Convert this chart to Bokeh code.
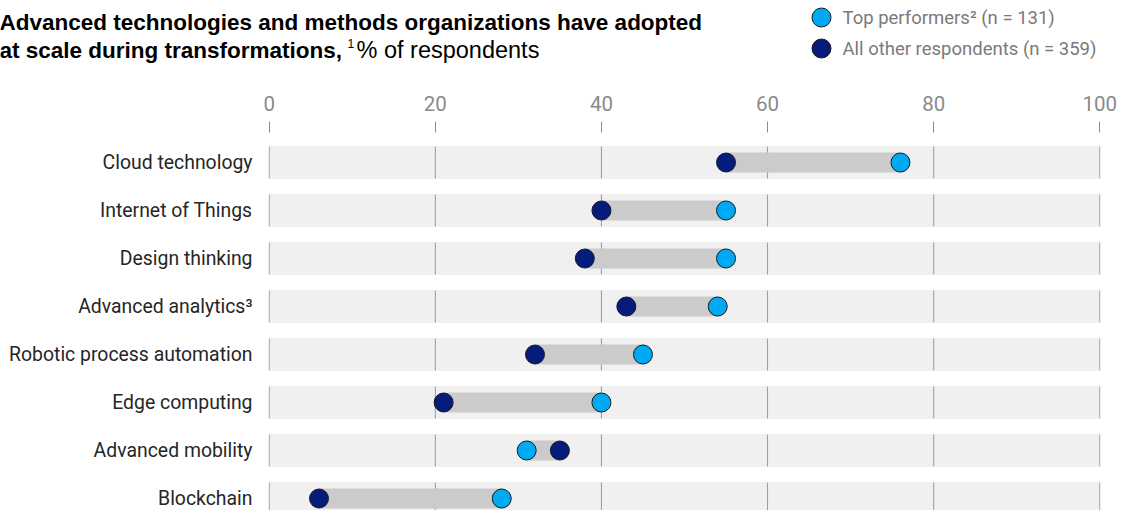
from bokeh.plotting import figure
from bokeh.layouts import column
from bokeh.models import Range1d, FixedTicker
from bokeh.core.properties import value
from bokeh.embed import file_html
from bokeh.resources import INLINE

# ---- data ----
categories = ["Cloud technology", "Internet of Things", "Design thinking",
              "Advanced analytics\u00b3", "Robotic process automation",
              "Edge computing", "Advanced mobility", "Blockchain"]
top_performers = [76, 55, 55, 54, 45, 40, 31, 28]
all_others = [55, 40, 38, 43, 32, 21, 35, 6]
x_ticks = [0, 20, 40, 60, 80, 100]

title_bold_1 = "Advanced technologies and methods organizations have adopted"
title_bold_2 = "at scale during transformations,"
title_note = "1"
title_rest = "% of respondents"
legend_labels = ["Top performers\u00b2 (n = 131)", "All other respondents (n = 359)"]

# ---- style ----
TOP = "#00a9f4"
OTHER = "#051c7c"
FONT = "Roboto"
TFONT = "Liberation Sans"
W = 1129
HEAD_H = 82
MAIN_H = 510 - HEAD_H

# ---- header (title + legend) ----
head = figure(width=W, height=HEAD_H, x_range=Range1d(0, W), y_range=Range1d(HEAD_H, 0),
              output_backend="svg", toolbar_location=None, min_border=0,
              x_axis_location=None, y_axis_location=None)
head.grid.visible = False
head.outline_line_color = None
head.frame_align = False

head.text(x=[-1], y=[22], text=[title_bold_1], text_font=value(TFONT), text_font_style="bold",
          text_font_size="22.5px", text_color="#000000", text_baseline="alphabetic")
head.text(x=[-1], y=[49.5], text=[title_bold_2], text_font=value(TFONT), text_font_style="bold",
          text_font_size="22.5px", text_color="#000000", text_baseline="alphabetic")
head.text(x=[347], y=[42.5], text=[title_note], text_font=value(TFONT),
          text_font_size="12px", text_color="#000000", text_baseline="alphabetic")
head.text(x=[356], y=[49.5], text=[title_rest], text_font=value(TFONT),
          text_font_size="23.5px", text_color="#000000", text_baseline="alphabetic")

leg_y = [17, 48]
head.scatter(x=[821, 821], y=leg_y, size=19, fill_color=[TOP, OTHER], line_color="#1a1a1a", line_width=1)
head.text(x=[842, 842], y=leg_y, text=legend_labels, text_font=value(FONT),
          text_font_size="18.5px", text_color="#7a7a7a", text_baseline="middle")

# ---- main chart ----
y_idx = list(range(len(categories)))
p = figure(width=W, height=MAIN_H, x_range=Range1d(-0.08, 100.08), y_range=Range1d(7.25, -0.625),
           output_backend="svg", toolbar_location=None, x_axis_location="above",
           min_border_left=268, min_border_right=29, min_border_top=132 - HEAD_H, min_border_bottom=0)
p.grid.visible = False
p.outline_line_color = None
p.frame_align = False

xa = p.xaxis[0]
xa.ticker = FixedTicker(ticks=x_ticks)
xa.axis_line_color = None
xa.major_tick_out = 11
xa.major_tick_in = 0
xa.major_tick_line_color = "#8c8c8c"
xa.minor_tick_line_color = None
xa.major_label_text_color = "#8a8a8a"
xa.major_label_text_font = FONT
xa.major_label_text_font_size = "20.5px"
xa.major_label_standoff = 11

ya = p.yaxis[0]
ya.ticker = FixedTicker(ticks=y_idx)
ya.major_label_overrides = {i: c for i, c in enumerate(categories)}
ya.axis_line_color = None
ya.major_tick_line_color = None
ya.minor_tick_line_color = None
ya.major_label_text_color = "#262626"
ya.major_label_text_font = FONT
ya.major_label_text_font_size = "19.4px"
ya.major_label_standoff = 10

# background bands
p.hbar(y=y_idx, left=x_ticks[0], right=x_ticks[-1], height=32 / 48, color="#f0f0f0")

# grid lines inside bands
gx, gy0, gy1 = [], [], []
for i in y_idx:
    for t in x_ticks:
        gx.append(t)
        gy0.append(i - 16 / 48)
        gy1.append(i + 16 / 48)
p.segment(x0=gx, y0=gy0, x1=gx, y1=gy1, line_color="#999999", line_width=1)

# range bars
lo = [min(a, b) for a, b in zip(top_performers, all_others)]
hi = [max(a, b) for a, b in zip(top_performers, all_others)]
p.hbar(y=y_idx, left=lo, right=hi, height=19 / 48, color="#cbcbcb")

# dots
p.scatter(x=all_others, y=y_idx, size=19, fill_color=OTHER, line_color="#1a1a1a", line_width=1)
p.scatter(x=top_performers, y=y_idx, size=19, fill_color=TOP, line_color="#1a1a1a", line_width=1)

layout = column(head, p, spacing=0)
open("out.html", "w").write(file_html(layout, INLINE))
